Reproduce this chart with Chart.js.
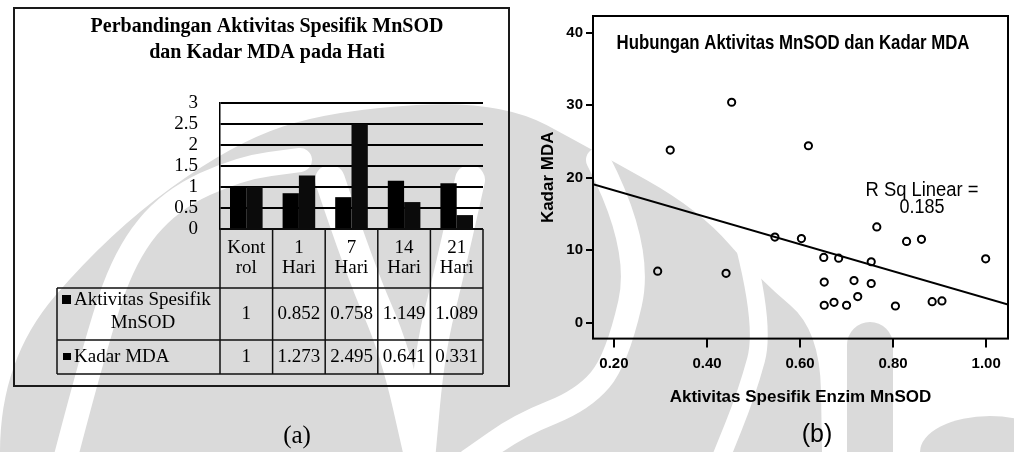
<!DOCTYPE html>
<html>
<head>
<meta charset="utf-8">
<script src="https://cdn.jsdelivr.net/npm/chart.js@4.4.1/dist/chart.umd.min.js"></script>
<style>
  body { margin: 0; background: #fff; }
  #wrap { position: relative; width: 1014px; height: 452px; overflow: hidden; }
  #wrap canvas { position: absolute; top: 0; }
  #frame-a { position: absolute; left: 13px; top: 7px; width: 497px; height: 380px; border: 2px solid #1a1a1a; box-sizing: border-box; }
  .cap { position: absolute; width: 40px; text-align: center; font-size: 25px; line-height: 30px; color: #000; }
</style>
</head>
<body>
<div id="wrap">
  <canvas id="mark" width="1014" height="452" style="left:0"></canvas>
  <div id="frame-a"></div>
  <canvas id="chartA" width="512" height="452" style="left:0"></canvas>
  <canvas id="chartB" width="502" height="452" style="left:512px"></canvas>
  <div class="cap" style="left:277px;top:420px;font-family:'Liberation Serif',serif">(a)</div>
  <div class="cap" style="left:797px;top:418px;font-family:'Liberation Sans',sans-serif">(b)</div>
</div>
<script>
// --- panel (a): bar chart + data table ---
const groups = [['Kont', 'rol'], ['1', 'Hari'], ['7', 'Hari'], ['14', 'Hari'], ['21', 'Hari']];
const mnsodRel = [1, 0.852, 0.758, 1.149, 1.089];
const mdaRel = [1, 1.273, 2.495, 0.641, 0.331];
const yTicksA = [0, 0.5, 1, 1.5, 2, 2.5, 3];
const seriesA = ['Aktivitas Spesifik MnSOD', 'Kadar MDA'];

// --- panel (b): scatter + linear fit ---
const sodX = [0.294, 0.321, 0.441, 0.453, 0.546, 0.603, 0.618, 0.651, 0.652, 0.652, 0.673, 0.683,
              0.700, 0.716, 0.724, 0.753, 0.753, 0.765, 0.805, 0.829, 0.861, 0.884, 0.905, 0.999];
const mdaY = [7.1, 23.8, 6.8, 30.4, 11.8, 11.6, 24.4, 9.0, 5.6, 2.4, 2.8, 8.9,
              2.4, 5.8, 3.6, 8.4, 5.4, 13.2, 2.3, 11.2, 11.5, 2.9, 3.0, 8.8];
const fitX = [0.155, 1.047];
const fitY = [19.1, 2.5];
const xTicksB = [0.2, 0.4, 0.6, 0.8, 1.0];
const yTicksB = [0, 10, 20, 30, 40];
const rSq = '0.185';

const SERIF = "'Liberation Serif', 'Times New Roman', serif";
const SANS = "'Liberation Sans', Arial, sans-serif";

// faint logo watermark behind the figure (rough shapes only)
function smooth(ctx, pts, close) {
    ctx.beginPath();
    ctx.moveTo(pts[0][0], pts[0][1]);
    for (let i = 1; i < pts.length - 1; i++) {
        const mx = (pts[i][0] + pts[i + 1][0]) / 2, my = (pts[i][1] + pts[i + 1][1]) / 2;
        ctx.quadraticCurveTo(pts[i][0], pts[i][1], mx, my);
    }
    const last = pts[pts.length - 1];
    ctx.lineTo(last[0], last[1]);
    if (close) ctx.closePath();
}
(function drawMark() {
    const ctx = document.getElementById('mark').getContext('2d');
    ctx.fillStyle = '#dadada';
    smooth(ctx, [[0, 452], [0, 360], [110, 232], [233, 143], [333, 110], [500, 100], [593, 150],
                 [700, 210], [760, 280], [820, 330], [822, 452]], true);
    ctx.fill();
    ctx.fillRect(847, 345, 46, 107);
    ctx.beginPath(); ctx.arc(870, 345, 23, Math.PI, 0); ctx.fill();
    ctx.beginPath(); ctx.ellipse(990, 452, 70, 36, 0, 0, Math.PI * 2); ctx.fill();

    ctx.strokeStyle = '#fff';
    ctx.lineCap = 'round';
    ctx.lineWidth = 24;
    smooth(ctx, [[65, 460], [95, 345], [125, 255], [170, 200], [240, 168], [300, 160]]); ctx.stroke();
    smooth(ctx, [[598, 160], [643, 247], [617, 360], [583, 400], [520, 425], [470, 460]]); ctx.stroke();
    ctx.lineWidth = 30;
    smooth(ctx, [[330, 180], [360, 270], [395, 350], [420, 460]]); ctx.stroke();
    smooth(ctx, [[470, 180], [450, 270], [430, 350], [420, 460]]); ctx.stroke();
    ctx.lineWidth = 18;
    smooth(ctx, [[745, 247], [765, 327], [747, 393], [720, 460]]); ctx.stroke();
})();

// squeezed text, like the condensed SPSS labels
function squeeze(ctx, text, cx, cy, font, width) {
    ctx.save();
    ctx.font = font;
    const k = width / ctx.measureText(text).width;
    ctx.translate(cx, cy);
    ctx.scale(k, 1);
    ctx.textAlign = 'center';
    ctx.textBaseline = 'middle';
    ctx.fillStyle = '#000';
    ctx.fillText(text, 0, 0);
    ctx.restore();
}

const tablePlugin = {
    id: 'dataTable',
    afterDraw(chart) {
        const ctx = chart.ctx, x = chart.scales.x, area = chart.chartArea;
        const half = (x.getPixelForValue(1) - x.getPixelForValue(0)) / 2;
        const left = 57, top = area.bottom, rows = [288, 340, 374];
        ctx.save();
        ctx.strokeStyle = '#111';
        ctx.lineWidth = 1.5;
        ctx.beginPath();
        ctx.moveTo(area.left, top); ctx.lineTo(area.right, top);
        rows.forEach(y => { ctx.moveTo(left, y); ctx.lineTo(area.right, y); });
        ctx.moveTo(left, rows[0]); ctx.lineTo(left, rows[2]);
        for (let i = 0; i <= groups.length; i++) {
            const px = i < groups.length ? x.getPixelForValue(i) - half : x.getPixelForValue(i - 1) + half;
            ctx.moveTo(px, top); ctx.lineTo(px, rows[2]);
        }
        ctx.stroke();

        ctx.fillStyle = '#000';
        ctx.font = '19px ' + SERIF;
        ctx.textAlign = 'center';
        ctx.textBaseline = 'middle';
        groups.forEach((g, i) => {
            const cx = x.getPixelForValue(i);
            ctx.fillText(g[0], cx, 248);
            ctx.fillText(g[1], cx, 268);
            ctx.fillText(String(mnsodRel[i]), cx, 314);
            ctx.fillText(String(mdaRel[i]), cx, 357);
        });
        // row headers with legend keys
        ctx.fillRect(62, 295, 9, 9);
        ctx.fillRect(63, 353, 8, 7);
        ctx.textAlign = 'left';
        ctx.fillText('Aktivitas Spesifik', 74, 300);
        ctx.fillText('Kadar MDA', 74, 357);
        ctx.textAlign = 'center';
        ctx.fillText('MnSOD', 143, 323);
        ctx.restore();
    }
};

new Chart(document.getElementById('chartA'), {
    type: 'bar',
    data: {
        labels: groups,
        datasets: [
            { label: seriesA[0], data: mnsodRel, backgroundColor: '#000' },
            { label: seriesA[1], data: mdaRel, backgroundColor: '#0b0b0b' }
        ]
    },
    options: {
        responsive: false,
        animation: false,
        categoryPercentage: 0.62,
        barPercentage: 1.0,
        layout: { padding: { left: 51, right: 29, top: 10, bottom: 223 } },
        plugins: {
            legend: { display: false },
            tooltip: { enabled: false },
            title: {
                display: true,
                text: ['Perbandingan Aktivitas Spesifik MnSOD', 'dan Kadar MDA pada Hati'],
                color: '#000',
                font: { family: SERIF, size: 20, weight: 'bold', lineHeight: 1.3 },
                padding: { top: 4, bottom: 37 }
            }
        },
        scales: {
            x: { display: false },
            y: {
                min: 0, max: 3,
                afterBuildTicks: s => { s.ticks = yTicksA.map(v => ({ value: v })); },
                afterFit: s => { s.width = 169; },
                ticks: { color: '#000', padding: 22, autoSkip: false, font: { family: SERIF, size: 19, lineHeight: 1 },
                         callback: v => String(v) },
                grid: { color: '#000', lineWidth: 2, drawTicks: false },
                border: { display: true, color: '#000', width: 1.5 }
            }
        }
    },
    plugins: [tablePlugin]
});

const framePlugin = {
    id: 'frameB',
    afterDraw(chart) {
        const ctx = chart.ctx, a = chart.chartArea;
        ctx.save();
        ctx.strokeStyle = '#000';
        ctx.lineWidth = 2;
        ctx.strokeRect(a.left, a.top, a.right - a.left, a.bottom - a.top);
        ctx.restore();
        squeeze(ctx, 'Hubungan Aktivitas MnSOD dan Kadar MDA', 281, 43, 'bold 21px ' + SANS, 353);
        squeeze(ctx, 'R Sq Linear =', 410, 190, '20px ' + SANS, 113);
        squeeze(ctx, rSq, 410, 207, '20px ' + SANS, 45);
    }
};

new Chart(document.getElementById('chartB'), {
    type: 'scatter',
    data: {
        datasets: [
            {
                label: 'Kadar MDA',
                data: sodX.map((v, i) => ({ x: v, y: mdaY[i] })),
                pointStyle: 'circle',
                pointRadius: 3.6,
                borderWidth: 2,
                borderColor: '#000',
                backgroundColor: 'rgba(0,0,0,0)'
            },
            {
                type: 'line',
                label: 'Linear',
                data: fitX.map((v, i) => ({ x: v, y: fitY[i] })),
                borderColor: '#000',
                borderWidth: 2,
                pointRadius: 0
            }
        ]
    },
    options: {
        responsive: false,
        animation: false,
        layout: { padding: { left: 26, right: 2, top: 16, bottom: 44 } },
        plugins: { legend: { display: false }, tooltip: { enabled: false } },
        scales: {
            x: {
                type: 'linear', min: 0.155, max: 1.047,
                afterBuildTicks: s => { s.ticks = xTicksB.map(v => ({ value: v })); },
                ticks: { color: '#000', padding: 7, font: { family: SANS, size: 15, weight: 'bold' }, callback: v => v.toFixed(2) },
                grid: { drawOnChartArea: false, color: '#000', lineWidth: 2, tickLength: 9 },
                border: { display: false },
                title: { display: true, text: 'Aktivitas Spesifik Enzim MnSOD', color: '#000',
                         font: { family: SANS, size: 17, weight: 'bold' }, padding: { top: 8, bottom: 0 } }
            },
            y: {
                min: -2.2, max: 42.3,
                afterBuildTicks: s => { s.ticks = yTicksB.map(v => ({ value: v })); },
                afterFit: s => { s.width = 55; },
                ticks: { color: '#000', padding: 3, font: { family: SANS, size: 15, weight: 'bold' } },
                grid: { drawOnChartArea: false, color: '#000', lineWidth: 2, tickLength: 7 },
                border: { display: false },
                title: { display: true, text: 'Kadar MDA', color: '#000',
                         font: { family: SANS, size: 17, weight: 'bold' }, padding: 0 }
            }
        }
    },
    plugins: [framePlugin]
});
</script>
</body>
</html>
